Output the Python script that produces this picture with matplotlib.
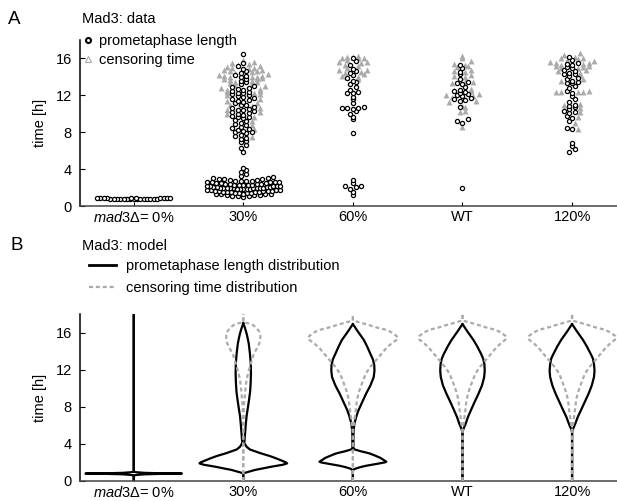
import numpy as np
import matplotlib
matplotlib.use("Agg")
import matplotlib.pyplot as plt
from matplotlib.lines import Line2D

plt.rcParams['font.family'] = ['Liberation Sans', 'DejaVu Sans']
plt.rcParams['font.size'] = 10.5
plt.rcParams['mathtext.fontset'] = 'custom'
plt.rcParams['mathtext.it'] = 'Liberation Sans:italic'
plt.rcParams['mathtext.rm'] = 'Liberation Sans'

# --- categories ---
categories = [r'$\mathit{mad3}\Delta$= 0%', '30%', '60%', 'WT', '120%']

# --- panel A: measured data [h] ---
prometa_0 = [0.78, 0.82, 0.75, 0.85, 0.80, 0.72, 0.88, 0.79, 0.83, 0.76, 0.90, 0.81, 0.74,
             0.86, 0.80, 0.77, 0.92, 0.84, 0.79, 0.73, 0.87, 0.81, 0.78, 0.85, 0.80]
censor_0 = []

prometa_30 = [1.0, 1.05, 1.1, 1.1, 1.15, 1.2, 1.2, 1.25, 1.3, 1.3, 1.3, 1.35,
              1.4, 1.4, 1.45, 1.45, 1.5, 1.5, 1.5, 1.55, 1.55, 1.6, 1.6, 1.6, 1.65, 1.65, 1.7, 1.7,
              1.75, 1.75, 1.8, 1.8, 1.8, 1.85, 1.85, 1.9, 1.9, 1.9, 1.95, 1.95, 2.0, 2.0, 2.0, 2.0,
              2.05, 2.05, 2.1, 2.1, 2.15, 2.15, 2.2, 2.2, 2.2, 2.25, 2.25, 2.3, 2.3, 2.3, 2.35, 2.35,
              2.4, 2.4, 2.45, 2.5, 2.5, 2.55, 2.55, 2.6, 2.6, 2.65, 2.7, 2.7, 2.75, 2.75,
              2.8, 2.85, 2.9, 2.9, 2.95, 3.0, 3.0, 3.1, 3.3, 3.5, 3.7, 3.9, 4.1,
              5.9, 6.3, 6.6, 6.9, 7.1, 7.3, 7.4, 7.6, 7.7, 7.9, 8.0, 8.0, 8.1, 8.2, 8.3, 8.5, 8.6,
              8.8, 8.9, 9.0, 9.2, 9.3, 9.5, 9.6, 9.7, 9.8, 9.9, 10.0, 10.1, 10.2, 10.3, 10.4, 10.4,
              10.5, 10.6, 10.7, 10.9, 11.0, 11.2, 11.3, 11.4, 11.5, 11.6, 11.7, 11.8, 11.9, 12.0,
              12.1, 12.2, 12.3, 12.4, 12.5, 12.6, 12.7, 12.8, 12.9, 13.0, 13.2, 13.4, 13.6, 13.8,
              14.0, 14.1, 14.2, 14.4, 14.6, 14.9, 15.2, 15.5, 16.5]
censor_30 = [7.5, 8.3, 8.8, 9.2, 9.6, 10.0, 10.2, 10.4, 10.6, 10.8, 11.0, 11.2, 11.4, 11.6, 11.8,
             12.0, 12.1, 12.2, 12.4, 12.5, 12.6, 12.7, 12.8, 13.0, 13.1, 13.2, 13.3, 13.4, 13.5,
             13.6, 13.7, 13.8, 13.8, 13.9, 14.0, 14.0, 14.0, 14.1, 14.1, 14.2, 14.3, 14.4, 14.5,
             14.6, 14.6, 14.7, 14.8, 14.9, 15.0, 15.0, 15.1, 15.2, 15.3, 15.4, 15.5, 15.6, 15.8]

prometa_60 = [1.2, 1.5, 1.8, 2.1, 2.2, 2.2, 2.5, 2.8, 7.9, 9.4, 9.7, 10.0, 10.3, 10.5, 10.6,
              10.6, 10.6, 10.7, 11.2, 11.6, 11.8, 12.2, 12.3, 12.4, 12.6, 12.9, 13.2, 13.4, 13.6,
              13.9, 14.2, 14.4, 14.6, 14.9, 15.3, 15.7, 16.0]
censor_60 = [13.8, 14.0, 14.0, 14.1, 14.3, 14.4, 14.5, 14.7, 14.8, 15.0, 15.2, 15.3, 15.5, 15.6,
             15.6, 15.8, 16.0, 16.0, 16.1, 16.2, 16.2, 16.3]

prometa_wt = [2.0, 9.0, 9.2, 9.4, 10.7, 11.4, 11.5, 11.6, 11.7, 11.9, 12.0, 12.1, 12.2, 12.4,
              12.5, 12.6, 12.9, 13.2, 13.3, 13.4, 13.8, 14.3, 14.5, 15.0, 15.3]
censor_wt = [8.6, 10.2, 10.3, 10.7, 10.8, 11.3, 11.4, 11.8, 11.9, 12.0, 12.1, 12.5, 12.6, 12.7,
             13.3, 13.4, 13.5, 14.0, 14.1, 14.2, 14.5, 14.6, 14.7, 15.1, 15.2, 15.3, 15.4, 15.7,
             16.0, 16.3]

prometa_120 = [5.9, 6.2, 6.5, 6.8, 8.4, 8.5, 9.2, 9.5, 9.8, 10.1, 10.2, 10.3, 10.5, 10.7, 10.8,
               11.0, 11.3, 11.6, 11.9, 12.2, 12.5, 12.8, 13.0, 13.3, 13.3, 13.4, 13.6, 13.8, 13.9,
               14.1, 14.3, 14.3, 14.4, 14.6, 14.8, 15.0, 15.1, 15.3, 15.4, 15.5, 15.8, 16.2]
censor_120 = [8.3, 9.0, 9.6, 10.2, 10.4, 10.6, 10.9, 11.1, 12.4, 12.4, 12.4, 12.4, 12.5, 13.6,
              13.8, 14.2, 14.4, 14.6, 14.8, 15.0, 15.0, 15.1, 15.2, 15.2, 15.3, 15.4, 15.5, 15.5,
              15.6, 15.7, 15.8, 15.9, 16.0, 16.1, 16.2, 16.4, 16.6]

prometa_data = [prometa_0, prometa_30, prometa_60, prometa_wt, prometa_120]
censor_data = [censor_0, censor_30, censor_60, censor_wt, censor_120]

# --- panel B: model distributions, (time [h], half width) ---
pm_0_t = [0, 0.6, 0.66, 0.72, 0.77, 0.8, 0.83, 0.88, 0.94, 1.0, 18]
pm_0_w = [0, 0, 0.03, 0.1, 0.25, 0.44, 0.25, 0.1, 0.03, 0, 0]
pm_30_t = [0, 0.83, 1.0, 1.2, 1.36, 1.55, 1.75, 1.9, 2.0, 2.2, 2.44, 2.7, 3.0, 3.4, 3.69,
           4.1, 5.1, 6.0, 7.0, 8.0, 8.7, 9.6, 10.5, 11.6, 12.7, 13.8, 14.8, 15.5, 15.9, 16.5, 17.0]
pm_30_w = [0, 0, 0.05, 0.11, 0.18, 0.26, 0.36, 0.40, 0.39, 0.35, 0.30, 0.24, 0.155, 0.06, 0.03,
           0.009, 0.016, 0.022, 0.03, 0.043, 0.052, 0.062, 0.067, 0.07, 0.068, 0.06, 0.05,
           0.038, 0.03, 0.015, 0]
pm_60_t = [0, 1.15, 1.25, 1.35, 1.5, 1.64, 1.85, 2.0, 2.08, 2.2, 2.5, 2.75, 2.96, 3.1, 3.2,
           3.35, 3.46, 5.0, 5.6, 6.2, 6.9, 7.6, 8.5, 9.4, 10.3, 11.2, 11.9, 12.5, 13.1, 13.7,
           14.5, 15.2, 15.7, 16.2, 16.6, 16.9]
pm_60_w = [0, 0, 0.01, 0.027, 0.07, 0.12, 0.22, 0.29, 0.305, 0.29, 0.25, 0.2, 0.155, 0.11,
           0.073, 0.03, 0.005, 0.005, 0.008, 0.014, 0.03, 0.05, 0.085, 0.12, 0.16, 0.19, 0.197,
           0.195, 0.183, 0.16, 0.13, 0.10, 0.07, 0.04, 0.018, 0]
pm_wt_t = [0, 5.3, 5.7, 6.2, 6.9, 7.6, 8.5, 9.4, 10.3, 11.2, 11.9, 12.6, 13.2, 13.7, 14.5,
           15.2, 15.7, 16.2, 16.6, 16.9]
pm_wt_w = [0, 0, 0.012, 0.03, 0.05, 0.076, 0.11, 0.146, 0.178, 0.198, 0.203, 0.20, 0.188,
           0.17, 0.135, 0.10, 0.07, 0.04, 0.018, 0]
pm_120_t = [0, 5.3, 5.7, 6.2, 6.9, 7.6, 8.5, 9.4, 10.3, 11.2, 11.9, 12.6, 13.2, 13.7, 14.5,
            15.2, 15.7, 16.2, 16.6, 16.9]
pm_120_w = [0, 0, 0.012, 0.03, 0.052, 0.08, 0.115, 0.15, 0.18, 0.2, 0.205, 0.2, 0.19, 0.17,
            0.135, 0.1, 0.07, 0.04, 0.018, 0]

cs_30_t = [0, 4.0, 6.5, 8.0, 9.4, 10.2, 10.9, 11.6, 12.3, 12.9, 13.5, 14.0, 14.4, 14.9, 15.3,
           15.7, 16.1, 16.5, 16.8, 17.0, 17.1, 18]
cs_30_w = [0, 0, 0.002, 0.005, 0.016, 0.022, 0.03, 0.043, 0.06, 0.075, 0.09, 0.11, 0.13, 0.148,
           0.155, 0.155, 0.146, 0.12, 0.09, 0.045, 0, 0]
cs_60_t = [0, 5.2, 5.9, 6.6, 7.3, 8.0, 8.7, 9.5, 10.2, 10.9, 11.6, 12.3, 13.0, 13.7, 14.4,
           14.9, 15.3, 15.6, 15.8, 16.1, 16.3, 16.6, 16.8, 17.0, 17.2, 17.3, 18]
cs_60_w = [0, 0, 0.007, 0.014, 0.023, 0.03, 0.037, 0.052, 0.073, 0.095, 0.119, 0.16, 0.21,
           0.26, 0.31, 0.36, 0.41, 0.40, 0.38, 0.34, 0.30, 0.20, 0.15, 0.09, 0.03, 0, 0]
cs_wt_w = [0, 0, 0.007, 0.014, 0.023, 0.03, 0.037, 0.052, 0.073, 0.095, 0.119, 0.16, 0.21,
           0.26, 0.31, 0.355, 0.40, 0.395, 0.375, 0.335, 0.30, 0.20, 0.15, 0.09, 0.03, 0, 0]
cs_120_w = [0, 0, 0.007, 0.014, 0.023, 0.03, 0.037, 0.052, 0.073, 0.095, 0.119, 0.16, 0.21,
            0.26, 0.31, 0.355, 0.40, 0.395, 0.375, 0.335, 0.30, 0.20, 0.15, 0.09, 0.03, 0, 0]

pm_time = [pm_0_t, pm_30_t, pm_60_t, pm_wt_t, pm_120_t]
pm_width = [pm_0_w, pm_30_w, pm_60_w, pm_wt_w, pm_120_w]
cens_time = [None, cs_30_t, cs_60_t, cs_60_t, cs_60_t]
cens_width = [None, cs_30_w, cs_60_w, cs_wt_w, cs_120_w]

GRAY = '#aaaaaa'
DASH = (1.8, 1.3)


def spread(circles, triangles, binh=0.45, step=0.05, maxw=0.7):
    # bin the values and fan each bin out sideways, circles in the middle
    vals = [(v, 0) for v in circles] + [(v, 1) for v in triangles]
    bins = {}
    for v, k in vals:
        bins.setdefault(int(np.floor(v / binh)), []).append((k, v))
    out = []
    for b in bins.values():
        b.sort()
        n = len(b)
        dx = min(step, maxw / n)
        offs = sorted([i - (n - 1) / 2 for i in range(n)], key=lambda o: (abs(o), o))
        for (k, v), o in zip(b, offs):
            out.append((o * dx, v, k))
    return out


def style(ax):
    for s in ['top', 'right']:
        ax.spines[s].set_visible(False)
    ax.spines['left'].set_linewidth(1.1)
    ax.spines['bottom'].set_linewidth(1.1)
    ax.spines['bottom'].set_color('#444444')
    ax.set_xlim(-0.49, 4.41)
    ax.set_ylim(0, 18)
    ax.set_yticks([0, 4, 8, 12, 16])
    ax.set_xticks(range(len(categories)))
    ax.set_xticklabels(categories)
    ax.tick_params(axis='y', direction='in', length=3.5, width=0.8, pad=6)
    ax.tick_params(axis='x', direction='in', length=3, width=0.8, pad=3)
    ax.set_ylabel('time [h]')
    ax.yaxis.set_label_coords(-0.062, 0.5)


fig = plt.figure(figsize=(6.17, 5.01), dpi=100)
ax1 = fig.add_axes([80 / 617, 1 - 206 / 501, 1 - 80 / 617, 166 / 501])
ax2 = fig.add_axes([80 / 617, 1 - 481 / 501, 1 - 80 / 617, 167 / 501])

# panel A
for i in range(len(categories)):
    pts = spread(prometa_data[i], censor_data[i])
    tx = [i + o for o, v, k in pts if k == 1]
    ty = [v for o, v, k in pts if k == 1]
    cx = [i + o for o, v, k in pts if k == 0]
    cy = [v for o, v, k in pts if k == 0]
    ax1.scatter(tx, ty, marker='^', s=18, color=GRAY, linewidths=0, zorder=2)
    ax1.scatter(cx, cy, marker='o', s=9, facecolors='white', edgecolors='black',
                linewidths=0.9, zorder=3)
style(ax1)
h1 = [Line2D([], [], ls='none', marker='o', ms=3.6, mfc='white', mec='black', mew=1.5),
      Line2D([], [], ls='none', marker='^', ms=5, mfc='white', mec=GRAY, mew=0.8)]
ax1.legend(h1, ['prometaphase length', 'censoring time'], loc='upper left',
           bbox_to_anchor=(-0.005, 1.07), frameon=False, handlelength=0.6,
           handletextpad=0.5, labelspacing=0.35, borderaxespad=0, fontsize=10.5)

# panel B
for i in range(len(categories)):
    w = np.array(pm_width[i])
    ax2.plot(i + w, pm_time[i], color='black', lw=1.6, zorder=2, solid_joinstyle='round')
    ax2.plot(i - w, pm_time[i], color='black', lw=1.6, zorder=2, solid_joinstyle='round')
    if cens_time[i] is not None:
        w = np.array(cens_width[i])
        ax2.plot(i + w, cens_time[i], color=GRAY, lw=1.6, dashes=DASH, zorder=3)
        ax2.plot(i - w, cens_time[i], color=GRAY, lw=1.6, dashes=DASH, zorder=3)
style(ax2)
h2 = [Line2D([], [], color='black', lw=2),
      Line2D([], [], color=GRAY, lw=1.6, dashes=DASH)]
ax2.legend(h2, ['prometaphase length distribution', 'censoring time distribution'],
           loc='lower left', bbox_to_anchor=(0.005, 1.08), frameon=False, handlelength=1.9,
           handletextpad=0.7, labelspacing=0.55, borderaxespad=0, fontsize=10.5)

fig.text(8 / 617, 1 - 20 / 501, 'A', fontsize=13.5, va='center')
fig.text(82 / 617, 1 - 19 / 501, 'Mad3: data', va='center')
fig.text(10 / 617, 1 - 245 / 501, 'B', fontsize=13.5, va='center')
fig.text(82 / 617, 1 - 246 / 501, 'Mad3: model', va='center')

fig.savefig('out.png', dpi=100)
